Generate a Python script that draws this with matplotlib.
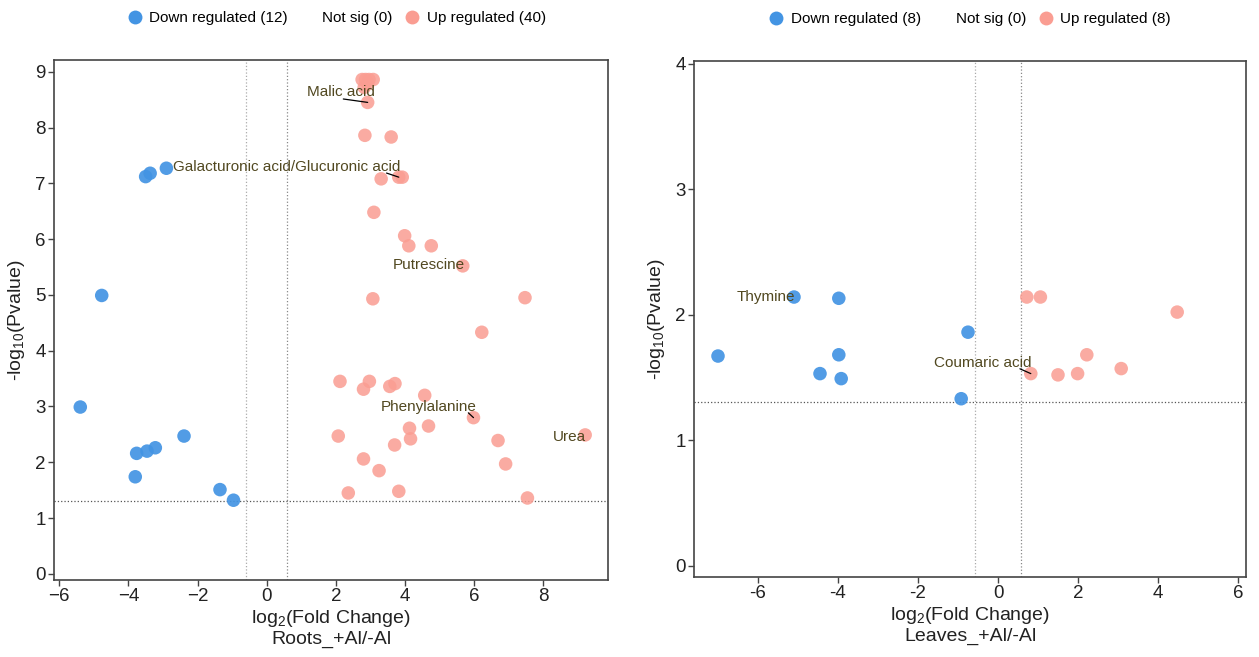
import matplotlib
matplotlib.use("Agg")
import matplotlib.pyplot as plt
from matplotlib.lines import Line2D

plt.rcParams['font.family'] = ['Liberation Sans', 'DejaVu Sans']
plt.rcParams['mathtext.default'] = 'regular'

# ---------------- data ----------------
# Roots
roots_down_x = [-2.90, -3.37, -3.50, -4.77, -5.39, -2.39, -3.22, -3.46, -3.76, -3.80, -1.35, -0.96]
roots_down_y = [7.27, 7.18, 7.12, 4.99, 2.99, 2.47, 2.26, 2.20, 2.16, 1.74, 1.51, 1.32]
roots_down_lab = [''] * 12

roots_up_x = [2.76, 2.86, 2.96, 3.08, 2.82, 2.92,
              2.92,
              2.84, 3.60,
              3.31, 3.82, 3.92,
              3.10, 3.99, 4.11, 4.76, 5.67, 3.07, 7.47, 6.22,
              2.12, 2.97, 2.80, 3.56, 3.71, 4.57, 5.98, 2.07, 4.13, 4.68,
              4.16, 6.69, 9.21, 3.70, 2.80, 6.91, 3.25, 2.36, 3.82, 7.54]
roots_up_y = [8.86, 8.86, 8.86, 8.86, 8.72, 8.78,
              8.45,
              7.86, 7.83,
              7.08, 7.11, 7.11,
              6.48, 6.06, 5.88, 5.88, 5.52, 4.93, 4.95, 4.33,
              3.45, 3.45, 3.31, 3.36, 3.41, 3.20, 2.80, 2.47, 2.61, 2.65,
              2.42, 2.39, 2.49, 2.31, 2.06, 1.97, 1.85, 1.45, 1.48, 1.36]
roots_up_lab = [''] * 40
roots_up_lab[6] = 'Malic acid'
roots_up_lab[10] = 'Galacturonic acid/Glucuronic acid'
roots_up_lab[16] = 'Putrescine'
roots_up_lab[26] = 'Phenylalanine'
roots_up_lab[32] = 'Urea'

# Leaves
leaves_down_x = [-7.00, -5.10, -3.98, -3.98, -4.45, -3.92, -0.75, -0.92]
leaves_down_y = [1.67, 2.14, 2.13, 1.68, 1.53, 1.49, 1.86, 1.33]
leaves_down_lab = ['', 'Thymine', '', '', '', '', '', '']

leaves_up_x = [0.72, 1.06, 4.48, 2.22, 3.08, 0.82, 1.50, 1.99]
leaves_up_y = [2.14, 2.14, 2.02, 1.68, 1.57, 1.53, 1.52, 1.53]
leaves_up_lab = ['', '', '', '', '', 'Coumaric acid', '', '']

fc_cut = 0.585
p_cut = 1.301

# label placement (offset in points, ha, draw segment, segment start relpos)
label_style = {
    'Malic acid': ((-19, 7.5), 'center', True, (0.53, 0.0)),
    'Galacturonic acid/Glucuronic acid': ((1, 7.5), 'right', True, (0.94, 0.05)),
    'Putrescine': ((1.5, 0.5), 'right', False, None),
    'Phenylalanine': ((-32, 8), 'center', True, (0.91, 0.05)),
    'Urea': ((0.5, -1.5), 'right', False, None),
    'Thymine': ((1, 0), 'right', False, None),
    'Coumaric acid': ((-34.5, 8), 'center', True, (0.88, 0.05)),
}

BLUE = '#4394E3'
RED = '#FA9D92'
TXT = '#514820'

fig = plt.figure(figsize=(12.59, 6.57), dpi=100)
W, H = 1259, 657


def make_ax(l, r, t, b):
    return fig.add_axes([l / W, 1 - b / H, (r - l) / W, (b - t) / H])


def panel(ax, dx, dy, dl, ux, uy, ul, xlim, ylim, xticks, yticks, sub,
          ndown, nup, unicode_minus, legx):
    ax.axvline(-fc_cut, color='#aaaaaa', ls=':', lw=0.9, zorder=1)
    ax.axvline(fc_cut, color='#888888', ls=':', lw=0.9, zorder=1)
    ax.axhline(p_cut, color='#555555', ls=':', lw=0.9, zorder=1)
    ax.scatter(dx, dy, s=95, color=BLUE, alpha=0.92, edgecolors='none', zorder=3)
    ax.scatter(ux, uy, s=95, color=RED, alpha=0.85, edgecolors='none', zorder=3)
    for xs, ys, labs in ((dx, dy, dl), (ux, uy, ul)):
        for x, y, lab in zip(xs, ys, labs):
            if not lab:
                continue
            off, ha, seg, rel = label_style[lab]
            ap = None
            if seg:
                ap = dict(arrowstyle='-', color='black', lw=0.9, patchA=None,
                          shrinkA=0, shrinkB=0, relpos=rel)
            ax.annotate(lab, xy=(x, y), xytext=off, textcoords='offset points',
                        ha=ha, va='center', fontsize=11, color=TXT,
                        arrowprops=ap, zorder=5)
    ax.set_xlim(*xlim)
    ax.set_ylim(*ylim)
    ax.set_xticks(xticks)
    ax.set_yticks(yticks)
    ax.set_xticklabels([str(t).replace('-', '\u2212') if unicode_minus else str(t)
                        for t in xticks])
    for s in ax.spines.values():
        s.set_color('#444444')
        s.set_linewidth(1.2)
    ax.tick_params(direction='out', length=4, width=1, color='#444444',
                   labelsize=13.5, labelcolor='#222222', pad=2)
    ax.set_xlabel('log$_2$(Fold Change)\n' + sub, fontsize=14, color='#222222',
                  labelpad=2, linespacing=1.1)
    ax.set_ylabel('-log$_{10}$(Pvalue)', fontsize=14, color='#222222', labelpad=6)
    handles = [
        Line2D([], [], marker='o', ls='none', markersize=10, color=BLUE, markeredgewidth=0),
        Line2D([], [], marker='o', ls='none', markersize=10, color='grey', alpha=0.0),
        Line2D([], [], marker='o', ls='none', markersize=10, color=RED, markeredgewidth=0),
    ]
    labels = ['Down regulated (%d)' % ndown, 'Not sig (0)', 'Up regulated (%d)' % nup]
    ax.legend(handles, labels, loc='center', bbox_to_anchor=(legx, 1 + 42 / ax.bbox.height),
              ncol=3, frameon=False, fontsize=11, handletextpad=0.25,
              columnspacing=0.6, handlelength=1.4)


ax1 = make_ax(54, 608, 60, 580)
panel(ax1, roots_down_x, roots_down_y, roots_down_lab,
      roots_up_x, roots_up_y, roots_up_lab,
      (-6.15, 9.87), (-0.11, 9.21), list(range(-6, 9, 2)), list(range(0, 10)),
      'Roots_+Al/-Al', len(roots_down_x), len(roots_up_x), True, 0.507)

ax2 = make_ax(694, 1246, 61, 577)
panel(ax2, leaves_down_x, leaves_down_y, leaves_down_lab,
      leaves_up_x, leaves_up_y, leaves_up_lab,
      (-7.6, 6.2), (-0.09, 4.02), list(range(-6, 7, 2)), list(range(0, 5)),
      'Leaves_+Al/-Al', len(leaves_down_x), len(leaves_up_x), False, 0.497)

fig.savefig('out.png', dpi=100)
